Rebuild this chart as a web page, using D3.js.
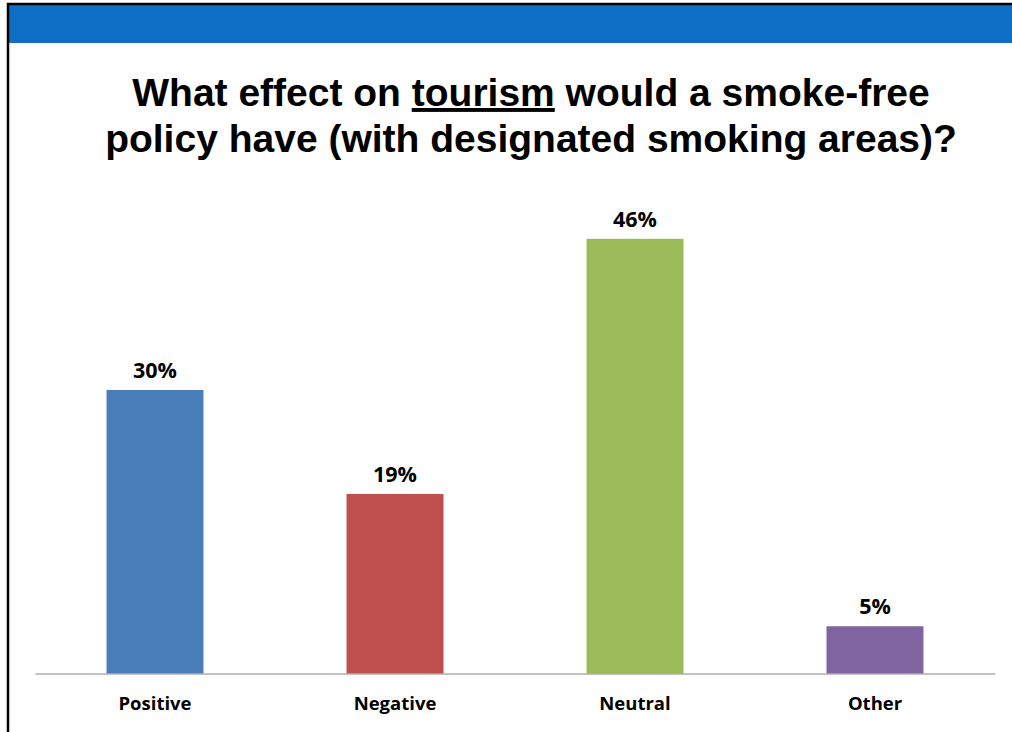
<!DOCTYPE html>
<html>
<head>
<meta charset="utf-8">
<script src="https://cdn.jsdelivr.net/npm/d3@7/dist/d3.min.js"></script>
<style>
  html, body { margin: 0; padding: 0; background: #fff; }
  svg { display: block; }
</style>
</head>
<body>
<svg id="chart" width="1012" height="732"></svg>
<script>
// Survey responses: effect of a smoke-free policy on tourism
const categories = ["Positive", "Negative", "Neutral", "Other"];
const values = [30, 19, 46, 5];
const barColors = ["#4A7EBB", "#C0504D", "#9BBB59", "#8064A2"];
const titleLines = [
  ["What effect on ", "tourism", " would a smoke-free"],
  ["policy have (with designated smoking areas)?"]
];

const svg = d3.select("#chart");
const W = 1012, H = 732;

// Slide frame and header band
svg.append("rect").attr("x", 9).attr("y", 5).attr("width", W - 9).attr("height", 38)
  .attr("fill", "#0F6FC6");
svg.append("line").attr("x1", 7).attr("x2", W).attr("y1", 4).attr("y2", 4)
  .attr("stroke", "#000").attr("stroke-width", 2.5);
svg.append("line").attr("x1", 8).attr("x2", 8).attr("y1", 3).attr("y2", H)
  .attr("stroke", "#000").attr("stroke-width", 2.5);

// Title
const title = svg.append("text")
  .attr("text-anchor", "middle")
  .attr("font-family", "'Liberation Sans', Arial, sans-serif")
  .attr("font-weight", "bold")
  .attr("font-size", 39)
  .attr("fill", "#000");
titleLines.forEach((parts, i) => {
  const line = title.append("tspan").attr("x", 531).attr("y", 106 + i * 46);
  parts.forEach((p, j) => {
    const t = line.append("tspan").text(p);
    if (p === "tourism") t.style("text-decoration", "underline");
  });
});

// Scales
const x = d3.scaleBand().domain(categories).range([35, 995])
  .paddingInner(0.596).paddingOuter(0.298);
const y = d3.scaleLinear().domain([0, 50]).range([673.5, 201]);

// Bars
svg.append("g").selectAll("rect").data(values).join("rect")
  .attr("x", (d, i) => x(categories[i]))
  .attr("y", d => y(d))
  .attr("width", x.bandwidth())
  .attr("height", d => y(0) - y(d))
  .attr("fill", (d, i) => barColors[i]);

// Value labels
svg.append("g").selectAll("text").data(values).join("text")
  .attr("x", (d, i) => x(categories[i]) + x.bandwidth() / 2)
  .attr("y", d => y(d) - 12)
  .attr("text-anchor", "middle")
  .attr("font-family", "'Open Sans', sans-serif")
  .attr("font-weight", "bold")
  .attr("font-size", 21.5)
  .attr("fill", "#000")
  .text(d => d + "%");

// Category axis
const axis = svg.append("g")
  .attr("transform", `translate(0,${y(0)})`)
  .call(d3.axisBottom(x).tickSize(0).tickPadding(23));
axis.select(".domain").attr("stroke", "#868686").attr("stroke-width", 1.2);
axis.selectAll(".tick text")
  .attr("font-family", "'Open Sans', sans-serif")
  .attr("font-weight", "bold")
  .attr("font-size", 18.5)
  .attr("fill", "#000");
</script>
</body>
</html>
